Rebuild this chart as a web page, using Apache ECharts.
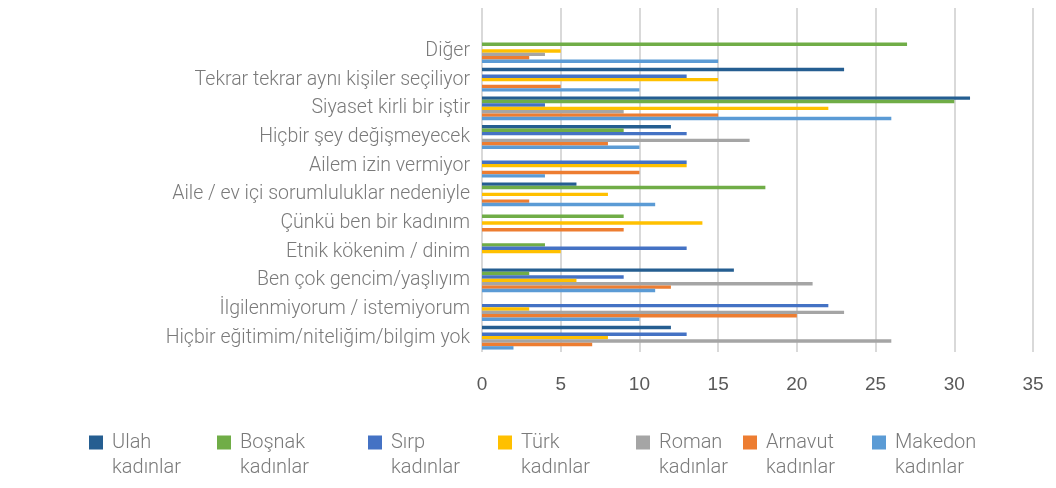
<!DOCTYPE html>
<html><head><meta charset="utf-8">
<script src="https://cdn.jsdelivr.net/npm/echarts@6/dist/echarts.min.js"></script>
<style>html,body{margin:0;padding:0;background:#fff}#c{width:1056px;height:488px}</style>
</head><body><div id="c"></div>
<script>
const categories = ["Diğer","Tekrar tekrar aynı kişiler seçiliyor","Siyaset kirli bir iştir","Hiçbir şey değişmeyecek","Ailem izin vermiyor","Aile / ev içi sorumluluklar nedeniyle","Çünkü ben bir kadınım","Etnik kökenim / dinim","Ben çok gencim/yaşlıyım","İlgilenmiyorum / istemiyorum","Hiçbir eğitimim/niteliğim/bilgim yok"];
const seriesNames = ["Ulah kadınlar","Boşnak kadınlar","Sırp kadınlar","Türk kadınlar","Roman kadınlar","Arnavut kadınlar","Makedon kadınlar"];
const ulah    = [0,23,31,12,0,6,0,0,16,0,12];
const bosnak  = [27,0,30,9,0,18,9,4,3,0,0];
const sirp    = [0,13,4,13,13,0,0,13,9,22,13];
const turk    = [5,15,22,0,13,8,14,5,6,3,8];
const roman   = [4,0,9,17,0,0,0,0,21,23,26];
const arnavut = [3,5,15,8,10,3,9,0,12,20,7];
const makedon = [15,10,26,10,4,11,0,0,11,10,2];
const xTicks = [0,5,10,15,20,25,30,35];

const values = [ulah,bosnak,sirp,turk,roman,arnavut,makedon];
const colors = ["#255E91","#70AD47","#4472C4","#FFC000","#A5A5A5","#ED7D31","#5B9BD5"];
const legendLeft = [89,217,368,498,636,743,872];
const font = "Roboto";
const iconPath = 'path://M0,0h14v14h-14z M0,38.9h0.01v0.1h-0.01z';

const chart = echarts.init(document.getElementById('c'), null, {renderer:'canvas'});
chart.setOption({
  animation:false,
  grid:{left:482,right:23,top:8,bottom:136,containLabel:false},
  xAxis:{type:'value',min:xTicks[0],max:xTicks[xTicks.length-1],interval:5,
    axisLine:{show:false},axisTick:{show:false},
    axisLabel:{color:'#595959',fontSize:19,fontFamily:'Liberation Sans',margin:23},
    splitLine:{lineStyle:{color:'#d9d9d9',width:2}}},
  yAxis:{type:'category',inverse:true,data:[''].concat(categories),
    axisLine:{show:false},axisTick:{show:false},
    axisLabel:{color:'#7a7a7a',fontSize:19.5,fontFamily:font,fontWeight:300,margin:12,padding:[4,0,0,0]},
    splitLine:{show:false}},
  legend: seriesNames.map((n,i)=>({
    data:[n],left:legendLeft[i],top:430,icon:iconPath,itemWidth:14,itemHeight:39,itemGap:0,
    selectedMode:false,padding:0,
    formatter:(name)=>name.replace(' ','\n'),
    textStyle:{color:'#7a7a7a',fontSize:20,fontFamily:font,fontWeight:300,lineHeight:25,padding:[0,0,0,4]}
  })),
  series: seriesNames.map((n,i)=>({
    name:n,type:'bar',data:[null].concat(values[i]),
    itemStyle:{color:colors[i]},
    barGap:'0%',barCategoryGap:'17%'
  }))
});
</script></body></html>
